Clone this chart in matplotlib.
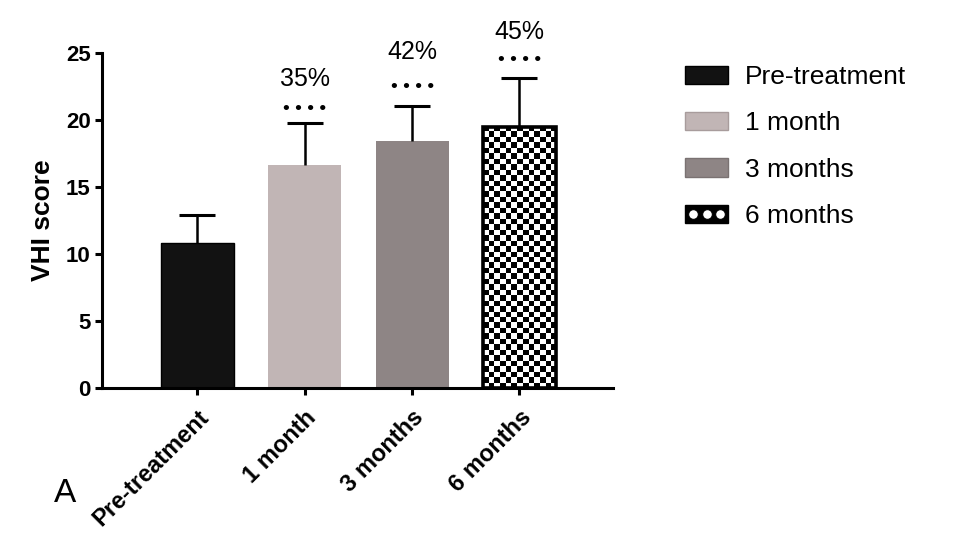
import numpy as np
import matplotlib
matplotlib.use('Agg')
import matplotlib.pyplot as plt
from matplotlib.patches import Patch
from matplotlib.lines import Line2D
from matplotlib.legend_handler import HandlerTuple

# data
groups = ['Pre-treatment', '1 month', '3 months', '6 months']
means = [10.8, 16.65, 18.45, 19.5]
sd = [2.1, 3.1, 2.6, 3.65]
percent_labels = ['', '35%', '42%', '45%']
sig_labels = ['', '\u2022 \u2022 \u2022 \u2022', '\u2022 \u2022 \u2022 \u2022', '\u2022 \u2022 \u2022 \u2022']
# heights of the annotations above each bar (in VHI units)
sig_y = [0, 20.8, 22.45, 24.4]
percent_y = [0, 23.05, 25.1, 26.6]
yticks = [0, 5, 10, 15, 20, 25]

colors = ['#121212', '#c1b5b5', '#8e8585', 'white']

plt.rcParams['font.family'] = ['Liberation Sans', 'DejaVu Sans']

fig = plt.figure(figsize=(9.79, 5.43), dpi=100)
ax = fig.add_axes([0.104, 0.2855, 0.522, 0.617])

x = np.arange(len(groups))
bars = ax.bar(x, means, width=0.68, color=colors, edgecolor=colors, linewidth=0, zorder=2)

# checker pattern for the 6 months bar
b = bars[3]
x0, w, h = b.get_x(), b.get_width(), b.get_height()
ncols, nrows = 13, 48
ii, jj = np.indices((nrows, ncols))
checker = ((ii + jj) % 2).astype(float)
im = ax.imshow(checker, cmap='gray', extent=(x0, x0 + w, 0, h), aspect='auto',
               interpolation='antialiased', zorder=3)
im.set_clip_path(b)
ax.bar([x[3]], [means[3]], width=0.68, fill=False, edgecolor='black', linewidth=2.6, zorder=4)
ax.bar([x[0]], [means[0]], width=0.68, fill=False, edgecolor='black', linewidth=1.0, zorder=4)

# upper error bars only
tops = np.array(means) + np.array(sd)
ax.vlines(x, means, tops, color='black', linewidth=1.8, zorder=5)
ax.plot(x, tops, linestyle='none', marker='_', markersize=26.6, markeredgewidth=2.2,
        color='black', zorder=5)

for xi, st, sy, p, py in zip(x, sig_labels, sig_y, percent_labels, percent_y):
    if st:
        ax.text(xi, sy, st, ha='center', va='center', fontsize=14, clip_on=False)
        ax.text(xi, py, p, ha='center', va='center', fontsize=18, clip_on=False)

ax.set_xlim(-0.89, 3.87)
ax.set_ylim(0, 25)
ax.set_yticks(yticks)
ax.set_xticks(x)
ax.set_xticklabels(groups, rotation=45, ha='right', rotation_mode='anchor',
                   fontsize=17, fontweight='bold')
for lab in ax.get_yticklabels():
    lab.set_fontsize(16)
    lab.set_fontweight('bold')
ax.set_ylabel('VHI score', fontsize=19, fontweight='bold', labelpad=8)

for side in ['top', 'right']:
    ax.spines[side].set_visible(False)
for side in ['left', 'bottom']:
    ax.spines[side].set_linewidth(2.2)
ax.tick_params(axis='both', width=2.2, length=5, direction='out', pad=3)
ax.tick_params(axis='x', pad=8)

dots = Line2D([], [], linestyle='none', marker='o', markersize=7,
              markerfacecolor='white', markeredgecolor='black', markeredgewidth=0.8)
handles = [Patch(facecolor=colors[0], edgecolor='black', linewidth=1.0),
           Patch(facecolor=colors[1], edgecolor='#a89c9c', linewidth=1.0),
           Patch(facecolor=colors[2], edgecolor='#7a7272', linewidth=1.0),
           (Patch(facecolor='black', edgecolor='black', linewidth=1.0), dots)]
leg = fig.legend(handles, groups, loc='upper left', bbox_to_anchor=(0.689, 0.9),
                 frameon=False, fontsize=19, handlelength=1.63, handleheight=0.68,
                 handletextpad=0.65, labelspacing=0.85, borderaxespad=0, numpoints=3,
                 handler_map={tuple: HandlerTuple(ndivide=1, pad=0)})

fig.text(0.055, 0.075, 'A', fontsize=24)

fig.savefig('out.png', dpi=100)
